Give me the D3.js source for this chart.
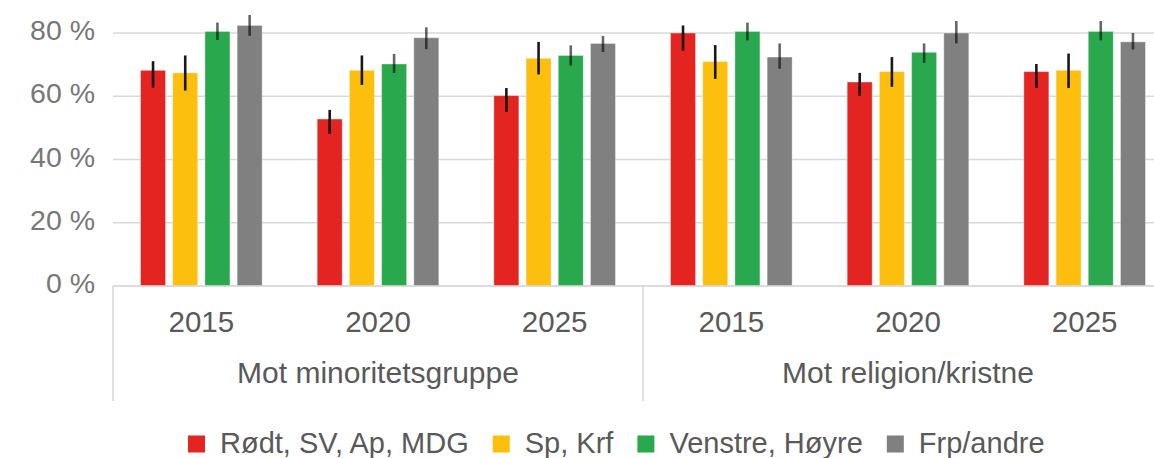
<!DOCTYPE html>
<html>
<head>
<meta charset="utf-8">
<script src="https://cdn.jsdelivr.net/npm/d3@7"></script>
<style>
  body { margin: 0; background: #fff; }
  text { font-family: "Liberation Sans", Arial, sans-serif; }
</style>
</head>
<body>
<div id="chart"></div>
<script>
// categories
var years = ["2015", "2020", "2025", "2015", "2020", "2025"];
var groups = ["Mot minoritetsgruppe", "Mot religion/kristne"];
var series = ["Rødt, SV, Ap, MDG", "Sp, Krf", "Venstre, Høyre", "Frp/andre"];
var yTicks = [0, 20, 40, 60, 80];

// values (percent), one array per series, in year order
var roedt   = [68.2, 52.8, 60.2, 80.0, 64.5, 67.8];
var spkrf   = [67.4, 68.2, 72.0, 71.0, 67.8, 68.2];
var venstre = [80.5, 70.2, 72.9, 80.5, 73.9, 80.5];
var frp     = [82.4, 78.5, 76.7, 72.4, 80.0, 77.2];

// error bars (low / high)
var roedtLo   = [62.8, 48.1, 55.1, 74.4, 60.2, 62.6];
var roedtHi   = [71.1, 55.7, 62.6, 82.4, 67.4, 70.2];
var spkrfLo   = [61.8, 63.6, 66.9, 65.5, 63.0, 62.6];
var spkrfHi   = [72.9, 72.9, 77.2, 76.2, 72.4, 73.5];
var venstreLo = [77.8, 67.4, 69.7, 77.7, 70.6, 77.7];
var venstreHi = [83.3, 73.4, 76.1, 83.3, 76.7, 83.8];
var frpLo     = [79.1, 74.9, 74.0, 68.7, 76.7, 74.8];
var frpHi     = [85.7, 81.8, 79.1, 76.7, 83.8, 80.0];

var values = [roedt, spkrf, venstre, frp];
var lows = [roedtLo, spkrfLo, venstreLo, frpLo];
var highs = [roedtHi, spkrfHi, venstreHi, frpHi];
var colors = ["#e42421", "#fcbf0e", "#2aa84e", "#808080"];

var width = 1154,
    height = 458,
    left = 113,
    right = 1173,   // plot runs past the picture edge
    bottom = 286;

var svg = d3.select("#chart").append("svg")
    .attr("width", width)
    .attr("height", height);

var y = d3.scaleLinear().domain([0, 90]).range([bottom, 1.4]);

var x0 = d3.scaleBand()
    .domain(d3.range(years.length))
    .range([left, right]);

var x1 = d3.scaleBand()
    .domain(d3.range(series.length))
    .range([0, x0.bandwidth()])
    .paddingInner(0.224)
    .paddingOuter(0.855);

// gridlines
svg.selectAll(".grid")
    .data(yTicks)
  .enter().append("line")
    .attr("x1", left)
    .attr("x2", width)
    .attr("y1", function(d){ return y(d); })
    .attr("y2", function(d){ return y(d); })
    .attr("stroke", "#d9d9d9")
    .attr("stroke-width", 1.6);

// y tick labels
svg.selectAll(".ytick")
    .data(yTicks)
  .enter().append("text")
    .attr("x", 95)
    .attr("y", function(d){ return y(d) + 7; })
    .attr("text-anchor", "end")
    .attr("fill", "#777")
    .style("font-size", "28.5px")
    .text(function(d){ return d + " %"; });

// bars
var cells = [];
years.forEach(function(yr, i){
    series.forEach(function(s, j){
        cells.push({i: i, j: j, v: values[j][i], lo: lows[j][i], hi: highs[j][i]});
    });
});

svg.selectAll(".bar")
    .data(cells)
  .enter().append("rect")
    .attr("x", function(d){ return x0(d.i) + x1(d.j); })
    .attr("y", function(d){ return y(d.v); })
    .attr("width", x1.bandwidth())
    .attr("height", function(d){ return y(0) - y(d.v); })
    .attr("fill", function(d){ return colors[d.j]; })
    .attr("stroke", "#fff")
    .attr("stroke-opacity", 0.35)
    .attr("stroke-width", 1);

// error bars
svg.selectAll(".err")
    .data(cells)
  .enter().append("line")
    .attr("x1", function(d){ return x0(d.i) + x1(d.j) + x1.bandwidth() / 2; })
    .attr("x2", function(d){ return x0(d.i) + x1(d.j) + x1.bandwidth() / 2; })
    .attr("y1", function(d){ return y(d.lo); })
    .attr("y2", function(d){ return y(d.hi); })
    .attr("stroke", "#000")
    .attr("stroke-opacity", function(d){ return d.j < 2 ? 0.9 : 0.6; })
    .attr("stroke-width", 2.6);

// x axis line
svg.append("line")
    .attr("x1", left).attr("x2", width)
    .attr("y1", bottom).attr("y2", bottom)
    .attr("stroke", "#d9d9d9")
    .attr("stroke-width", 1.6);

// group separators
svg.selectAll(".sep")
    .data([0, 3, 6])
  .enter().append("line")
    .attr("x1", function(d){ return d < years.length ? x0(d) : right; })
    .attr("x2", function(d){ return d < years.length ? x0(d) : right; })
    .attr("y1", bottom)
    .attr("y2", 401)
    .attr("stroke", "#d9d9d9")
    .attr("stroke-width", 1.6);

// year labels
svg.selectAll(".year")
    .data(years)
  .enter().append("text")
    .attr("x", function(d, i){ return x0(i) + x0.bandwidth() / 2; })
    .attr("y", 332)
    .attr("text-anchor", "middle")
    .attr("fill", "#595959")
    .style("font-size", "29.5px")
    .text(function(d){ return d; });

// group labels
svg.selectAll(".group")
    .data(groups)
  .enter().append("text")
    .attr("x", function(d, i){ return (x0(i * 3) + (i == 0 ? x0(3) : right)) / 2; })
    .attr("y", 383)
    .attr("text-anchor", "middle")
    .attr("fill", "#595959")
    .style("font-size", "30px")
    .text(function(d){ return d; });

// legend
var lx = 188;
series.forEach(function(s, j){
    svg.append("rect")
        .attr("x", lx)
        .attr("y", 435.5)
        .attr("width", 17)
        .attr("height", 17)
        .attr("fill", colors[j]);
    var t = svg.append("text")
        .attr("x", lx + 32)
        .attr("y", 453)
        .attr("fill", "#595959")
        .style("font-size", "29px")
        .text(s);
    lx = lx + 32 + t.node().getComputedTextLength() + 24;
});
</script>
</body>
</html>
